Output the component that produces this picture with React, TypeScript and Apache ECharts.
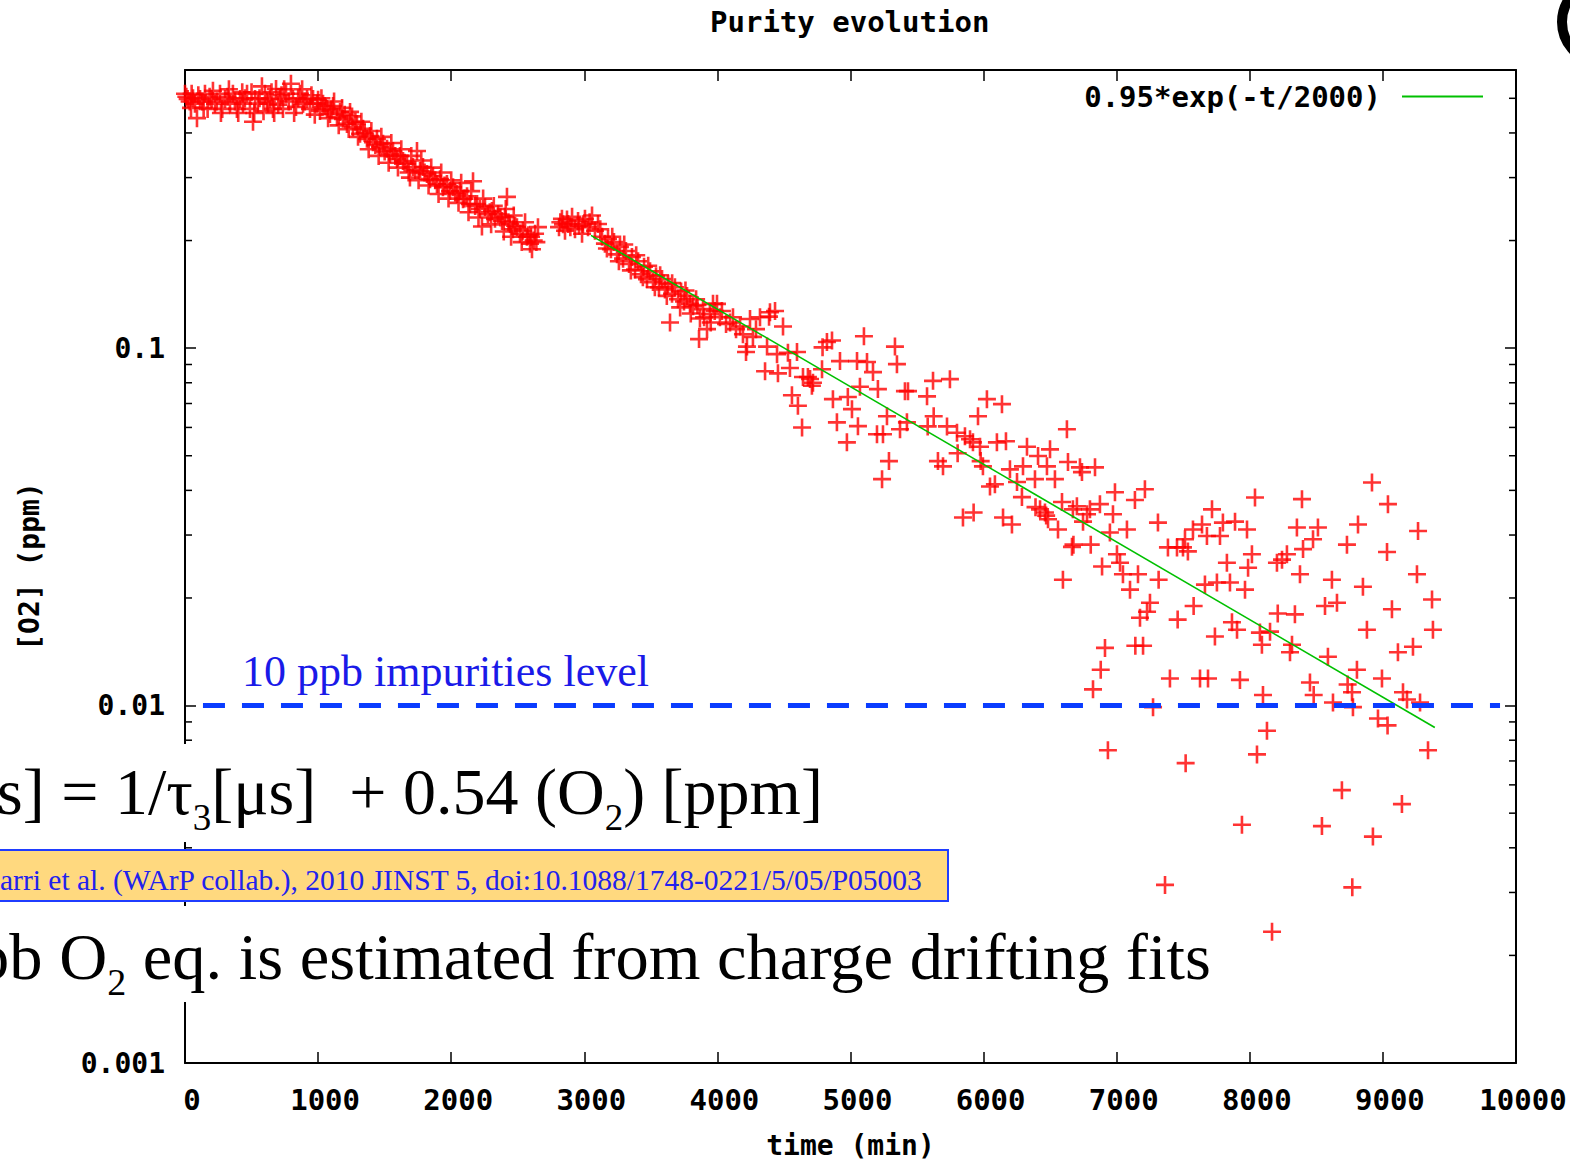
import React, { useEffect, useRef } from "react";
import * as echarts from "echarts";

// ---- axis values ----
const xTicks = { min: 0, max: 10000, step: 1000 };
const yRange = { min: 0.001, max: 0.6 };
const minorTicks = [
  0.002, 0.003, 0.004, 0.005, 0.006, 0.007, 0.008, 0.009,
  0.02, 0.03, 0.04, 0.05, 0.06, 0.07, 0.08, 0.09,
  0.2, 0.3, 0.4, 0.5,
];

// ---- measurements: [time (min), [O2] (ppm)] ----
const earlyRun: [number, number][] = [
  [0, 0.515], [10, 0.505], [20, 0.498], [35, 0.49], [45, 0.47], [50, 0.515], [60, 0.5], [75, 0.483], [90, 0.44],
  [100, 0.51], [113, 0.498], [130, 0.49], [140, 0.47], [150, 0.515], [170, 0.467], [185, 0.505], [200, 0.498],
  [210, 0.525], [225, 0.483], [240, 0.49], [263, 0.515], [270, 0.455], [280, 0.467], [301, 0.498], [320, 0.505],
  [330, 0.53], [338, 0.483], [360, 0.515], [375, 0.49], [390, 0.467], [400, 0.455], [413, 0.498], [430, 0.52],
  [436, 0.483], [450, 0.5], [466, 0.515], [488, 0.467], [500, 0.52], [511, 0.43], [520, 0.455], [526, 0.498],
  [548, 0.483], [560, 0.5], [578, 0.54], [590, 0.46], [601, 0.515], [615, 0.49], [624, 0.483], [639, 0.498],
  [650, 0.52], [661, 0.467], [670, 0.455], [684, 0.531], [700, 0.48], [714, 0.498], [725, 0.51], [736, 0.467],
  [745, 0.53], [759, 0.515], [780, 0.49], [796, 0.549], [811, 0.498], [820, 0.455], [834, 0.473], [850, 0.5],
  [864, 0.515], [880, 0.53], [887, 0.483], [900, 0.49], [917, 0.498], [939, 0.467], [950, 0.51], [962, 0.498],
  [975, 0.45], [992, 0.483], [1000, 0.495], [1014, 0.461], [1025, 0.5], [1037, 0.483], [1050, 0.475],
  [1067, 0.467], [1075, 0.44], [1089, 0.452], [1100, 0.465], [1112, 0.476], [1120, 0.49], [1142, 0.443],
  [1155, 0.42], [1165, 0.458], [1180, 0.47], [1187, 0.438], [1200, 0.45], [1217, 0.424], [1230, 0.41],
  [1240, 0.458], [1255, 0.445], [1262, 0.415], [1280, 0.43], [1292, 0.424], [1300, 0.39], [1315, 0.398],
  [1325, 0.43], [1337, 0.411], [1350, 0.4], [1367, 0.385], [1380, 0.36], [1390, 0.392], [1400, 0.405],
  [1412, 0.377], [1430, 0.37], [1442, 0.385], [1455, 0.345], [1465, 0.365], [1475, 0.39], [1488, 0.373],
  [1500, 0.355], [1518, 0.361], [1530, 0.33], [1540, 0.349], [1550, 0.375], [1563, 0.356], [1580, 0.345],
  [1593, 0.338], [1600, 0.32], [1615, 0.345], [1625, 0.36], [1638, 0.334], [1650, 0.33], [1668, 0.328],
  [1680, 0.31], [1690, 0.3], [1700, 0.345], [1713, 0.321], [1730, 0.315], [1743, 0.356], [1755, 0.295],
  [1766, 0.313], [1775, 0.335], [1788, 0.321], [1800, 0.31], [1818, 0.307], [1830, 0.285], [1841, 0.297],
  [1850, 0.32], [1863, 0.303], [1880, 0.295], [1893, 0.288], [1905, 0.27], [1916, 0.297], [1925, 0.31],
  [1938, 0.282], [1950, 0.285], [1968, 0.288], [1980, 0.262], [1991, 0.275], [2000, 0.295], [2014, 0.282],
  [2030, 0.272], [2044, 0.27], [2055, 0.255], [2066, 0.275], [2075, 0.29], [2089, 0.261], [2100, 0.262],
  [2119, 0.266], [2130, 0.24], [2141, 0.253], [2150, 0.275], [2164, 0.293], [2180, 0.25], [2194, 0.253],
  [2205, 0.232], [2216, 0.245], [2231, 0.219], [2240, 0.262], [2254, 0.248], [2276, 0.237], [2290, 0.24],
  [2300, 0.222], [2306, 0.242], [2320, 0.25], [2329, 0.23], [2352, 0.237], [2370, 0.232], [2382, 0.227],
  [2395, 0.212], [2404, 0.233], [2410, 0.245], [2419, 0.265], [2430, 0.225], [2442, 0.2225], [2450, 0.205],
  [2464, 0.215], [2470, 0.235], [2480, 0.22], [2494, 0.218], [2517, 0.209], [2530, 0.198], [2539, 0.213],
  [2555, 0.225], [2569, 0.205], [2580, 0.207], [2592, 0.196], [2600, 0.205], [2607, 0.189], [2620, 0.2],
  [2630, 0.209], [2640, 0.198], [2652, 0.218],
];

const secondRun: [number, number][] = [
  [2810, 0.218], [2820, 0.225], [2832, 0.23], [2840, 0.222], [2855, 0.213], [2870, 0.229],
  [2878, 0.2225], [2895, 0.218], [2908, 0.233], [2930, 0.215], [2953, 0.227], [2960, 0.22],
  [2983, 0.209], [2990, 0.222], [3005, 0.23], [3028, 0.218], [3040, 0.225], [3058, 0.235],
  [3080, 0.213], [3103, 0.2225], [3120, 0.215], [3133, 0.205], [3155, 0.196], [3170, 0.19],
  [3178, 0.202], [3200, 0.189], [3210, 0.205], [3223, 0.198], [3246, 0.183], [3260, 0.175],
  [3268, 0.192], [3291, 0.178], [3300, 0.195], [3313, 0.187], [3336, 0.172], [3350, 0.165],
  [3358, 0.18], [3381, 0.166], [3390, 0.182], [3404, 0.175], [3426, 0.161], [3440, 0.158],
  [3449, 0.169], [3471, 0.156], [3480, 0.17], [3494, 0.164], [3516, 0.153], [3530, 0.148],
  [3539, 0.159], [3561, 0.148], [3570, 0.16], [3584, 0.156], [3606, 0.146], [3620, 0.14],
  [3629, 0.151], [3644, 0.118], [3659, 0.142], [3660, 0.152], [3681, 0.148], [3704, 0.137],
  [3720, 0.13], [3727, 0.144], [3749, 0.135], [3760, 0.145], [3772, 0.14], [3794, 0.133],
  [3800, 0.125], [3817, 0.131], [3840, 0.137], [3850, 0.132], [3862, 0.106], [3869, 0.121],
  [3892, 0.1286], [3900, 0.122], [3922, 0.113], [3944, 0.1245], [3950, 0.118], [3967, 0.133],
  [3980, 0.127], [3997, 0.133],
];

const lateRun: [number, number][] = [
  [4019, 0.122], [4034, 0.127], [4065, 0.1168], [4095, 0.118], [4117, 0.122], [4140, 0.113],
  [4170, 0.115], [4192, 0.1094], [4215, 0.0975], [4222, 0.101], [4245, 0.1206], [4267, 0.1075],
  [4290, 0.113], [4320, 0.122], [4358, 0.0862], [4373, 0.101], [4388, 0.1225], [4395, 0.126],
  [4433, 0.127], [4448, 0.0962], [4455, 0.085], [4493, 0.115], [4530, 0.097], [4545, 0.088],
  [4560, 0.0738], [4598, 0.0975], [4605, 0.069], [4636, 0.06], [4643, 0.083], [4680, 0.083],
  [4696, 0.082], [4710, 0.0785], [4718, 0.08], [4786, 0.0873], [4790, 0.1005], [4823, 0.104],
  [4861, 0.105], [4868, 0.072], [4898, 0.062], [4921, 0.092], [4973, 0.0545], [4980, 0.073],
  [5011, 0.0675], [5049, 0.092], [5056, 0.0605], [5071, 0.078], [5101, 0.108], [5124, 0.0915],
  [5169, 0.0857], [5199, 0.0574], [5206, 0.0768], [5237, 0.043], [5244, 0.0574], [5274, 0.0645],
  [5289, 0.0483], [5334, 0.101], [5349, 0.0902], [5372, 0.0593], [5409, 0.0758], [5424, 0.062],
  [5432, 0.0758], [5575, 0.0733], [5580, 0.0604], [5620, 0.081], [5625, 0.0645], [5657, 0.0483],
  [5695, 0.0467], [5725, 0.0604], [5747, 0.0819], [5800, 0.058], [5805, 0.0508], [5845, 0.0336],
  [5860, 0.0567], [5898, 0.0556], [5920, 0.0545], [5925, 0.0347], [5958, 0.0645], [5973, 0.053],
  [5978, 0.0483], [5995, 0.0467], [6025, 0.072], [6048, 0.041], [6085, 0.0416], [6100, 0.0545],
  [6138, 0.0697], [6146, 0.0336], [6168, 0.0549], [6198, 0.0458], [6213, 0.0321], [6251, 0.0422],
  [6288, 0.0383], [6296, 0.0467], [6326, 0.053], [6386, 0.043], [6390, 0.0359], [6409, 0.0499],
  [6424, 0.0354], [6461, 0.0347], [6470, 0.034], [6476, 0.0467], [6484, 0.0332], [6499, 0.0521],
  [6536, 0.043], [6559, 0.0311], [6589, 0.0371], [6596, 0.0225], [6626, 0.0593], [6634, 0.048],
  [6664, 0.0278], [6671, 0.0354], [6675, 0.0282], [6701, 0.0361], [6724, 0.0464], [6739, 0.045],
  [6747, 0.0327], [6777, 0.0343], [6799, 0.0354], [6805, 0.0282], [6822, 0.0111], [6837, 0.0464],
  [6874, 0.0366], [6880, 0.0126], [6890, 0.0245], [6912, 0.0145], [6934, 0.0075], [6949, 0.0305],
  [6972, 0.0343], [6987, 0.0395], [7002, 0.0265], [7025, 0.0251], [7047, 0.0233], [7077, 0.0311],
  [7100, 0.0211], [7137, 0.0376], [7140, 0.0147], [7160, 0.0233], [7175, 0.0176], [7198, 0.0147],
  [7212, 0.0403], [7228, 0.0183], [7250, 0.0194], [7273, 0.0099], [7310, 0.0325], [7315, 0.0225],
  [7363, 0.00315], [7385, 0.0277], [7400, 0.0119], [7453, 0.0277], [7458, 0.0174], [7498, 0.0277],
  [7513, 0.0292], [7518, 0.0069], [7535, 0.027], [7573, 0.0311], [7578, 0.019], [7626, 0.0119],
  [7641, 0.0321], [7663, 0.0218], [7678, 0.0298], [7686, 0.0119], [7716, 0.0354], [7738, 0.0156],
  [7753, 0.0221], [7776, 0.0298], [7798, 0.0325], [7828, 0.0251], [7851, 0.0221], [7866, 0.0171],
  [7889, 0.0327], [7904, 0.0163], [7926, 0.0118], [7941, 0.00464], [7964, 0.0211], [7979, 0.0311],
  [7987, 0.0243], [8016, 0.0265], [8039, 0.0382], [8054, 0.0073], [8076, 0.016], [8091, 0.0148],
  [8099, 0.0107], [8129, 0.0085], [8152, 0.0161], [8167, 0.00233], [8204, 0.0251], [8210, 0.0181],
  [8242, 0.0256], [8279, 0.0265], [8302, 0.0141], [8317, 0.0148], [8339, 0.018], [8354, 0.0315],
  [8377, 0.0233], [8392, 0.0378], [8400, 0.0274], [8452, 0.0116], [8475, 0.0292], [8480, 0.0107],
  [8512, 0.0315], [8542, 0.0046], [8565, 0.019], [8587, 0.0137], [8617, 0.0225], [8625, 0.0102],
  [8655, 0.0194], [8692, 0.0058], [8730, 0.0282], [8735, 0.01145], [8768, 0.0109], [8770, 0.0031],
  [8775, 0.0099], [8805, 0.0126], [8813, 0.0321], [8850, 0.0215], [8880, 0.0163], [8918, 0.0421],
  [8925, 0.0043], [8963, 0.0092], [8993, 0.0119], [9031, 0.0269], [9035, 0.0088], [9038, 0.0366],
  [9068, 0.0186], [9113, 0.0141], [9143, 0.0053], [9151, 0.0109], [9181, 0.0104], [9226, 0.0146],
  [9256, 0.0233], [9264, 0.0308], [9279, 0.0102], [9339, 0.0075], [9369, 0.0198], [9376, 0.0163],
];

// fit 0.95*exp(-t/2000): straight on a log axis, so its two end values suffice
const fitName = "0.95*exp(-t/2000)";
const fitT = [3050, 9390];
const fitO2 = [0.2067, 0.008683];

// 10 ppb impurities level
const impurityLevel = 0.01;
const impurityT = [135, 9880];

const MONO = "DejaVu Sans Mono";
const SERIF = "Liberation Serif";
const PLUS = "path://M7.7,0H10.3V7.7H18V10.3H10.3V18H7.7V10.3H0V7.7H7.7Z";

export default function App() {
  const ref = useRef<HTMLDivElement>(null);
  useEffect(() => {
    if (!ref.current) return;
    const chart = echarts.init(ref.current, null, { renderer: "svg" });
    const monoText = { fontFamily: MONO, fontWeight: "bold", fontSize: 28, color: "#000" };
    const monoBig = { ...monoText, fontSize: 29 };
    const axisLine = { show: true, onZero: false, lineStyle: { color: "#000", width: 2 } };
    const axisTick = { show: true, inside: true, length: 11, lineStyle: { color: "#000", width: 1.5 } };
    const logLabel = (v: number) => {
      const l = Math.log10(v);
      const r = Math.round(l);
      return Math.abs(l - r) < 1e-6 ? v.toFixed(-r) : "";
    };
    chart.setOption({
      animation: false,
      backgroundColor: "#fff",
      title: {
        text: "Purity evolution",
        left: 710,
        top: 7,
        padding: 0,
        textStyle: monoBig,
      },
      legend: {
        data: [fitName],
        right: 87,
        top: 82,
        padding: 0,
        align: "right",
        icon: "rect",
        itemWidth: 81,
        itemHeight: 2,
        selectedMode: false,
        textStyle: { ...monoBig, padding: [0, 16, 0, 0] },
      },
      grid: {
        left: 185,
        top: 70,
        width: 1331,
        height: 993,
        containLabel: false,
        outerBoundsMode: "none",
      },
      xAxis: [
        {
          type: "value",
          min: xTicks.min,
          max: xTicks.max,
          interval: xTicks.step,
          position: "bottom",
          axisLine,
          axisTick,
          splitLine: { show: false },
          axisLabel: {
            ...monoBig,
            margin: 22,
            padding: [0, 0, 0, 14],
            formatter: (v: number) => String(v),
          },
          name: "time (min)",
          nameLocation: "middle",
          nameGap: 68,
          nameTextStyle: monoText,
        },
        {
          type: "value",
          min: xTicks.min,
          max: xTicks.max,
          interval: xTicks.step,
          position: "top",
          axisLine,
          axisTick,
          splitLine: { show: false },
          axisLabel: { show: false },
        },
      ],
      yAxis: [
        {
          type: "log",
          logBase: 10,
          min: yRange.min,
          max: yRange.max,
          position: "left",
          axisLine,
          axisTick,
          splitLine: { show: false },
          axisLabel: { ...monoText, margin: 20, formatter: logLabel },
          name: "[O2] (ppm)",
          nameLocation: "middle",
          nameRotate: 90,
          nameGap: 142,
          nameTextStyle: monoText,
        },
        {
          type: "log",
          logBase: 10,
          min: yRange.min,
          max: yRange.max,
          position: "right",
          axisLine,
          axisTick,
          splitLine: { show: false },
          axisLabel: { show: false },
        },
      ],
      series: [
        {
          type: "custom",
          name: "minor ticks",
          xAxisIndex: 0,
          yAxisIndex: 0,
          silent: true,
          clip: false,
          z: 1,
          data: minorTicks.map((v) => [0, v]),
          renderItem: (params: any, api: any) => {
            const y = api.coord([0, api.value(1)])[1];
            const cs = params.coordSys;
            const st = { stroke: "#000", lineWidth: 1.5 };
            return {
              type: "group",
              children: [
                { type: "line", shape: { x1: cs.x, y1: y, x2: cs.x + 7, y2: y }, style: st },
                { type: "line", shape: { x1: cs.x + cs.width, y1: y, x2: cs.x + cs.width - 7, y2: y }, style: st },
              ],
            };
          },
        },
        {
          type: "scatter",
          name: "data",
          xAxisIndex: 0,
          yAxisIndex: 0,
          symbol: PLUS,
          symbolSize: 18,
          itemStyle: { color: "#ff0000" },
          clip: false,
          z: 2,
          data: [...earlyRun, ...secondRun, ...lateRun],
        },
        {
          type: "line",
          name: fitName,
          xAxisIndex: 0,
          yAxisIndex: 0,
          showSymbol: false,
          color: "#00c000",
          lineStyle: { color: "#00c000", width: 1.6 },
          itemStyle: { color: "#00c000" },
          z: 3,
          data: fitT.map((t, i) => [t, fitO2[i]]),
        },
        {
          type: "line",
          name: "10 ppb",
          xAxisIndex: 0,
          yAxisIndex: 0,
          showSymbol: false,
          lineStyle: { color: "#0a3cff", width: 5, type: [22, 17] },
          z: 4,
          data: impurityT.map((t) => [t, impurityLevel]),
        },
      ],
      graphic: {
        elements: [
          {
            type: "text",
            z: 20,
            x: 242,
            y: 671,
            style: {
              text: "10 ppb impurities level",
              fontFamily: SERIF,
              fontSize: 44,
              fill: "#1a1ae8",
              align: "left",
              verticalAlign: "middle",
            },
          },
          { type: "rect", z: 20, shape: { x: -5, y: 744, width: 840, height: 98 }, style: { fill: "#fff" } },
          { type: "rect", z: 20, shape: { x: -5, y: 906, width: 1222, height: 96 }, style: { fill: "#fff" } },
          {
            type: "text",
            z: 21,
            x: -3,
            y: 791,
            style: {
              text: "s] = 1/τ{sub|3}[μs]  + 0.54 (O{sub|2}) [ppm]",
              fontFamily: SERIF,
              fontSize: 66,
              lineHeight: 90,
              fill: "#000",
              align: "left",
              verticalAlign: "middle",
              rich: {
                sub: { fontFamily: SERIF, fontSize: 37, lineHeight: 40, verticalAlign: "bottom", fill: "#000" },
              },
            },
          },
          {
            type: "rect",
            z: 21,
            shape: { x: -5, y: 850, width: 953, height: 51 },
            style: { fill: "#ffd97f", stroke: "#1f3cff", lineWidth: 2 },
          },
          {
            type: "text",
            z: 22,
            x: 0,
            y: 880,
            style: {
              text: "arri et al. (WArP collab.), 2010 JINST 5, doi:10.1088/1748-0221/5/05/P05003",
              fontFamily: SERIF,
              fontSize: 29.5,
              fill: "#2222ee",
              align: "left",
              verticalAlign: "middle",
            },
          },
          {
            type: "text",
            z: 21,
            x: -24,
            y: 956,
            style: {
              text: "pb O{sub|2} eq. is estimated from charge drifting fits",
              fontFamily: SERIF,
              fontSize: 66.5,
              lineHeight: 90,
              fill: "#000",
              align: "left",
              verticalAlign: "middle",
              rich: {
                sub: { fontFamily: SERIF, fontSize: 38, lineHeight: 40, verticalAlign: "bottom", fill: "#000" },
              },
            },
          },
          {
            type: "arc",
            z: 22,
            shape: { cx: 1603, cy: 22, r: 41, startAngle: Math.PI * 0.55, endAngle: Math.PI * 1.45 },
            style: { stroke: "#000", lineWidth: 10, fill: "none" },
          },
        ],
      },
    });
    return () => chart.dispose();
  }, []);
  return (
    <div
      ref={ref}
      style={{ position: "fixed", left: 0, top: 0, width: 1570, height: 1161, background: "#fff" }}
    />
  );
}
